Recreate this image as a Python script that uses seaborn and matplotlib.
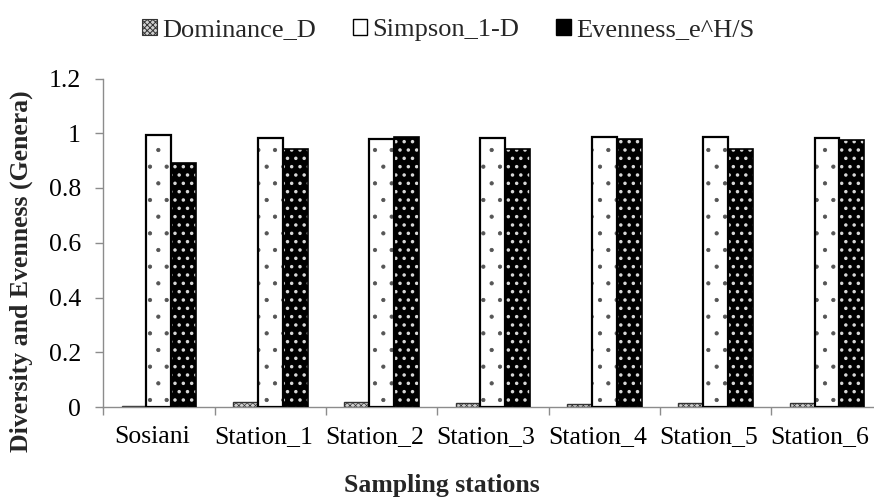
import matplotlib
matplotlib.use("Agg")
import matplotlib.pyplot as plt
from matplotlib.patches import Patch, Rectangle
from matplotlib.transforms import ScaledTranslation
import pandas as pd
import seaborn as sns

stations = ["Sosiani", "Station_1", "Station_2", "Station_3",
            "Station_4", "Station_5", "Station_6"]
dominance = [0.005, 0.017, 0.020, 0.016, 0.012, 0.015, 0.015]
simpson = [0.995, 0.983, 0.980, 0.984, 0.988, 0.985, 0.984]
evenness = [0.893, 0.942, 0.988, 0.942, 0.978, 0.942, 0.976]
series_names = ["Dominance_D", "Simpson_1-D", "Evenness_e^H/S"]
y_ticks = [0, 0.2, 0.4, 0.6, 0.8, 1, 1.2]
y_tick_labels = ["0", "0.2", "0.4", "0.6", "0.8", "1", "1.2"]

df = pd.DataFrame({
    "station": stations * 3,
    "index": [series_names[0]] * 7 + [series_names[1]] * 7 + [series_names[2]] * 7,
    "value": dominance + simpson + evenness,
})

sns.set_theme(style="white")
plt.rcParams["font.family"] = ["Liberation Serif", "DejaVu Serif"]
plt.rcParams["hatch.linewidth"] = 0.7

FS = 18.5
fig = plt.figure(figsize=(8.74, 5.0), dpi=100)
ax = fig.add_axes([0.118, 0.186, 0.892, 0.657])

sns.barplot(data=df, x="station", y="value", hue="index",
            hue_order=series_names, order=stations, width=0.67,
            dodge=True, legend=False, ax=ax, errorbar=None)

axis_grey = "#8c8c8c"


def hatch_width(patch, lw):
    if hasattr(patch, "set_hatch_linewidth"):
        patch.set_hatch_linewidth(lw)


# Dominance: small grey checker
for bar in ax.containers[0]:
    bar.set_facecolor("#d0d0d0")
    bar.set_edgecolor("#333333")
    bar.set_hatch("xxxxxx")
    bar.set_linewidth(1.0)
    hatch_width(bar, 0.5)

# Simpson: white with sparse grey dots
for bar in ax.containers[1]:
    bar.set_facecolor("white")
    bar.set_edgecolor("#555555")
    bar.set_hatch(".")
    bar.set_linewidth(0)
    hatch_width(bar, 0.6)
    ax.add_patch(Rectangle(bar.get_xy(), bar.get_width(), bar.get_height(),
                           fill=False, edgecolor="black", linewidth=1.6, zorder=3))

# Evenness: black with white dots
for bar in ax.containers[2]:
    bar.set_facecolor("black")
    bar.set_edgecolor("#d8d8d8")
    bar.set_hatch("..")
    bar.set_linewidth(0)
    hatch_width(bar, 1.3)
    ax.add_patch(Rectangle(bar.get_xy(), bar.get_width(), bar.get_height(),
                           fill=False, edgecolor="black", linewidth=1.2, zorder=3))

ax.set_xlim(-0.5, len(stations) - 0.5)
ax.set_ylim(0, 1.2)
ax.set_yticks(y_ticks)
ax.set_yticklabels(y_tick_labels)

# category labels, tick marks on category boundaries
ax.set_xticks(range(len(stations)))
ax.set_xticklabels(stations)
ax.set_xticks([i - 0.5 for i in range(len(stations) + 1)], minor=True)
ax.tick_params(axis="x", which="major", length=0, pad=14, labelsize=FS, colors="black")
ax.tick_params(axis="x", which="minor", length=6, width=1, color=axis_grey, bottom=True)
ax.tick_params(axis="y", length=6, width=1, color=axis_grey, left=True, pad=10,
               labelsize=FS, labelcolor="black")
shift = ScaledTranslation(-7 / 100, 0, fig.dpi_scale_trans)
for lbl in ax.get_xticklabels():
    lbl.set_transform(lbl.get_transform() + shift)

for side in ["top", "right"]:
    ax.spines[side].set_visible(False)
for side in ["left", "bottom"]:
    ax.spines[side].set_color(axis_grey)
    ax.spines[side].set_linewidth(1.0)

ax.set_xlabel("")
ax.set_ylabel("")
fig.text(0.024, 0.458, "Diversity and Evenness (Genera)", rotation=90,
         ha="center", va="center", fontsize=FS, fontweight="bold")
fig.text(0.506, 0.016, "Sampling stations", ha="center", va="baseline",
         fontsize=FS, fontweight="bold")

handles = [
    Patch(facecolor="#d0d0d0", edgecolor="#333333", hatch="xxxxxx", linewidth=0.8),
    Patch(facecolor="white", edgecolor="black", linewidth=1.0),
    Patch(facecolor="black", edgecolor="black", linewidth=1.0),
]
fig.legend(handles, series_names, loc="center", bbox_to_anchor=(0.513, 0.94),
           ncol=3, frameon=False, fontsize=19, handlelength=0.55,
           handleheight=0.55, handletextpad=0.2, columnspacing=1.4)

fig.savefig("out.png", dpi=100)
